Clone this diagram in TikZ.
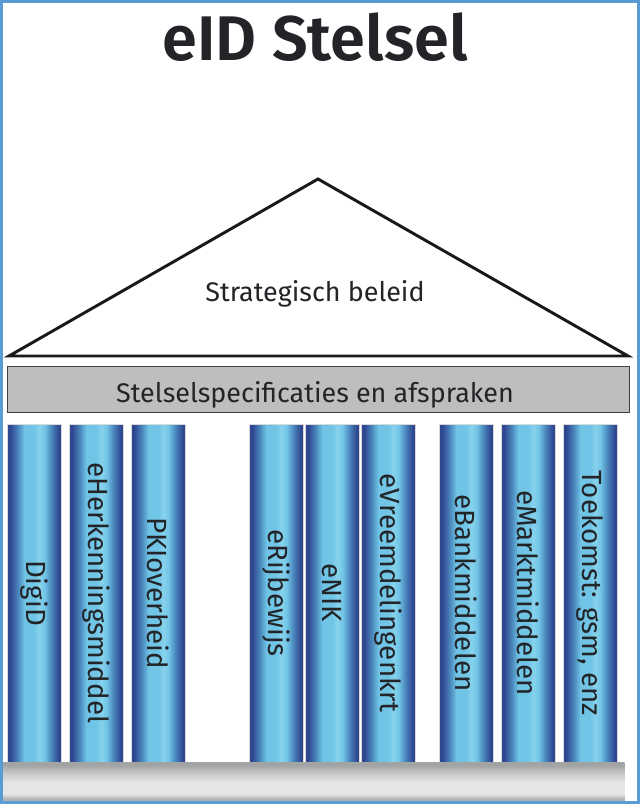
\documentclass[tikz,border=0pt]{standalone}
\usepackage{fontspec}
\setmainfont{Fira Sans}
\newfontfamily\titlefont{Fira Sans SemiBold}
\definecolor{frameblue}{HTML}{5B9BD5}
\definecolor{cdark}{HTML}{2E4791}
\definecolor{cmid}{HTML}{4A86BC}
\definecolor{clight}{HTML}{70C4E6}
\definecolor{chigh}{HTML}{88D2EC}
\definecolor{inkc}{HTML}{222428}
\definecolor{barfill}{HTML}{BEBEBE}
\definecolor{plA}{HTML}{A2A3A3}
\definecolor{plB}{HTML}{C4C5C4}
\definecolor{plC}{HTML}{E4E5E4}
\definecolor{plD}{HTML}{B2B3B2}
\pgfdeclarehorizontalshading{pillarshade}{100bp}{
  color(0bp)=(cdark); color(25bp)=(cdark); color(28bp)=(cdark); color(35bp)=(cmid); color(41bp)=(clight);
  color(50bp)=(clight); color(55bp)=(chigh); color(60bp)=(clight);
  color(66bp)=(cmid); color(73bp)=(cdark); color(75bp)=(cdark); color(100bp)=(cdark)}
\pgfdeclareverticalshading{plinthshade}{100bp}{
  color(0bp)=(plD); color(25bp)=(plD); color(29bp)=(plD); color(35bp)=(plC); color(50bp)=(plC); color(62bp)=(plB);
  color(71bp)=(plA); color(75bp)=(plA); color(100bp)=(plA)}
\tikzset{
  pillar/.style={minimum width=40.5pt,minimum height=253.5pt,inner sep=0pt,
    shading=pillarshade,draw=white!70!gray,line width=0.4pt},
  pillartext/.style={rotate=-90,font=\fontsize{20.8}{22}\selectfont,text=inkc,inner sep=0pt},
}
\begin{document}
\begin{tikzpicture}[x=0.75pt,y=-0.75pt]
\useasboundingbox (0,0) rectangle (640,804);
\fill[white] (0,0) rectangle (640,804);

\node[font=\titlefont\fontsize{47.3}{50}\selectfont,text=inkc,inner sep=0pt] (title) at (315,37) {eID Stelsel};

\coordinate (apex) at (318,179);
\coordinate (left) at (9,356);
\coordinate (right) at (628,356);
\draw[line width=2.2pt,line join=miter,fill=white,draw=black!90] (apex) -- (left) -- (right) -- cycle;
\node[font=\fontsize{20.2}{22}\selectfont,text=inkc,inner sep=0pt] (beleid) at (315,294) {Strategisch beleid};

\node[draw=black!75,line width=0.9pt,fill=barfill,minimum width=467pt,minimum height=35pt,inner sep=0pt,
  font=\fontsize{20.2}{22}\selectfont,text=inkc] (afspraken) at (318.5,389.5) {\hspace*{-5.2pt}\raisebox{-9.5pt}[0pt][0pt]{Stelselspecificaties en afspraken}};

\foreach \n/\cx/\t in {a/34/DigiD,b/96/eHerkenningsmiddel,c/158/PKIoverheid,d/276/eRijbewijs,e/332/eNIK,f/388/eVreemdelingenkrt,g/466/eBankmiddelen,h/528/eMarktmiddelen,i/590/{Toekomst: gsm, enz}}{
  \node[pillar] (p\n) at (\cx,593) {};
  \node[pillartext] (t\n) at (\cx,593) {\t};
}

\node[minimum width=467pt,minimum height=30pt,inner sep=0pt,shading=plinthshade] (plinth) at (313,782) {};

\draw[frameblue,line width=2.25pt] (1.5,1.5) rectangle (638.5,802.5);
\end{tikzpicture}
\end{document}
